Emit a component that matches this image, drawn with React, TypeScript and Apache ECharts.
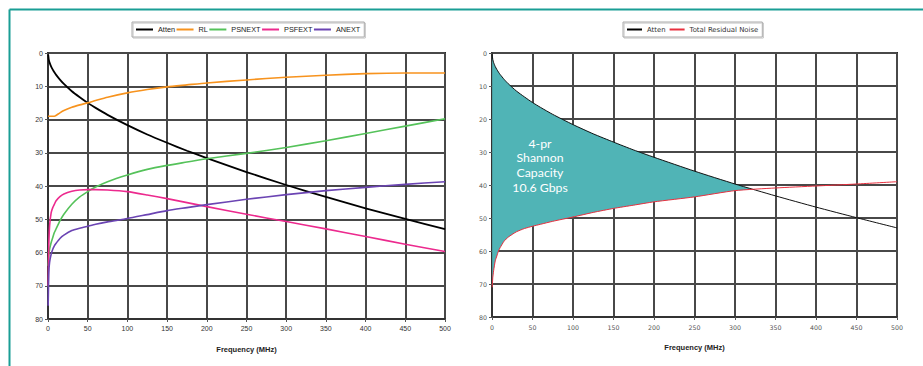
import React, { useEffect, useRef } from "react";
import * as echarts from "echarts";

// Frequency points (MHz)
const freqs = [0.2, 0.5, 1, 2, 4, 6, 8, 10, 15, 20, 30, 40, 50, 60, 75, 100, 125, 150, 175, 200, 250, 300, 350, 400, 450, 500];

// Left chart series (dB)
const atten = [0.5, 1.0, 2.0, 2.9, 4.1, 5.0, 5.8, 6.5, 8.0, 9.3, 11.5, 13.3, 15.0, 16.5, 18.6, 21.7, 24.5, 27.0, 29.4, 31.6, 35.8, 39.7, 43.3, 46.7, 49.9, 53.0];
const rl = [19, 19, 19, 19, 19, 19, 19, 18.8, 18.0, 17.3, 16.3, 15.6, 15.0, 14.3, 13.3, 12.0, 11.0, 10.2, 9.6, 9.0, 8.1, 7.3, 6.7, 6.2, 6.0, 6.0];
const psnext = [64, 63, 61, 59, 57, 55.5, 54, 53, 50.5, 48.5, 45.5, 43.3, 41.7, 40.3, 38.7, 36.7, 35.0, 33.8, 32.8, 31.8, 30.2, 28.4, 26.4, 24.2, 22.0, 19.8];
const psfext = [70, 66, 58, 52, 48, 46.5, 45.5, 44.5, 43.2, 42.4, 41.6, 41.2, 41.1, 41.1, 41.2, 41.7, 42.7, 43.8, 45.0, 46.2, 48.5, 50.7, 52.9, 55.2, 57.5, 59.7];
const anext = [76, 72, 66, 63, 60.5, 59, 58, 57.3, 55.8, 54.8, 53.4, 52.7, 52.1, 51.5, 50.8, 49.8, 48.6, 47.4, 46.5, 45.6, 44.0, 42.6, 41.4, 40.4, 39.5, 38.7];

// Right chart series (dB)
const attenR = atten;
const noise = [71, 70, 68, 66, 63, 61.5, 60, 59, 57, 55.8, 54.2, 53.2, 52.5, 51.9, 51.0, 49.7, 48.3, 47.1, 46.1, 45.1, 43.6, 41.7, 40.9, 40.3, 39.7, 39.0];

const leftNames = ["Atten", "RL", "PSNEXT", "PSFEXT", "ANEXT"];
const rightNames = ["Atten", "Total Residual Noise"];
const capacityLines = ["4-pr", "Shannon", "Capacity", "10.6 Gbps"];

const pairs = (ys: number[]) => freqs.map((f, i) => [f, ys[i]]);

export default function App() {
  const ref = useRef<HTMLDivElement>(null);
  useEffect(() => {
    if (!ref.current) return;
    const chart = echarts.init(ref.current, undefined, { renderer: "svg" });
    const lab = "Liberation Sans, Arial, sans-serif";
    const mkX = (gi: number, font: string, fs: number, color: string, margin: number) => ({
      gridIndex: gi,
      type: "value",
      min: 0,
      max: 500,
      interval: 50,
      name: "Frequency (MHz)",
      nameLocation: "middle",
      nameGap: 26,
      nameTextStyle: { fontWeight: "bold", fontSize: 7.5, fontFamily: lab, color: "#222" },
      axisLine: { show: true, onZero: false, lineStyle: { color: "#333", width: 2 } },
      axisTick: { show: true, length: 3, lineStyle: { color: "#555" } },
      axisLabel: { fontSize: fs, fontFamily: font, color, margin },
      splitLine: { show: true, lineStyle: { color: "#484848", width: 2 } },
    });
    const mkY = (gi: number, font: string, fs: number, color: string) => ({
      gridIndex: gi,
      type: "value",
      inverse: true,
      min: 0,
      max: 80,
      interval: 10,
      axisLine: { show: true, onZero: false, lineStyle: { color: "#333", width: 2 } },
      axisTick: { show: true, length: 3, lineStyle: { color: "#555" } },
      axisLabel: { fontSize: fs, fontFamily: font, color, margin: 5 },
      splitLine: { show: true, lineStyle: { color: "#484848", width: 2 } },
    });
    const line = (name: string, ys: number[], color: string, width: number, axis: number) => ({
      name,
      type: "line",
      xAxisIndex: axis,
      yAxisIndex: axis,
      data: pairs(ys),
      showSymbol: false,
      symbol: "none",
      smooth: 0.2,
      lineStyle: { color, width },
      itemStyle: { color },
      z: 3,
    });

    const textEls = capacityLines.map((t, i) => ({
      type: "text",
      x: 540,
      y: 143 + i * 14.9,
      z: 100,
      style: {
        text: t,
        fill: "#fff",
        font: '12.3px Lato, "Noto Sans", sans-serif',
        textAlign: "center",
        textVerticalAlign: "middle",
      },
    }));

    const option: any = {
      animation: false,
      backgroundColor: "#fff",
      grid: [
        { left: 48, top: 53, width: 397, height: 266, show: true, borderColor: "#2a2a2a", borderWidth: 2 },
        { left: 492, top: 53, width: 405, height: 264, show: true, borderColor: "#2a2a2a", borderWidth: 2 },
      ],
      legend: [
        {
          data: leftNames,
          left: 132,
          top: 22,
          icon: "rect",
          itemWidth: 17,
          itemHeight: 2,
          itemGap: 1.5,
          padding: [4, 4],
          borderColor: "#aaa",
          borderWidth: 1,
          shadowColor: "rgba(0,0,0,0.25)",
          shadowOffsetX: 1,
          shadowOffsetY: 1,
          shadowBlur: 1,
          textStyle: { fontSize: 7.3, fontFamily: lab, color: "#222" },
        },
        {
          data: rightNames,
          left: 623,
          top: 22,
          icon: "rect",
          itemWidth: 15,
          itemHeight: 2,
          itemGap: 4,
          padding: [4, 4],
          borderColor: "#aaa",
          borderWidth: 1,
          shadowColor: "rgba(0,0,0,0.25)",
          shadowOffsetX: 1,
          shadowOffsetY: 1,
          shadowBlur: 1,
          textStyle: { fontSize: 6.9, fontFamily: "DejaVu Sans, sans-serif", color: "#333" },
        },
      ],
      xAxis: [mkX(0, lab, 7, "#333", 6), mkX(1, "DejaVu Sans, sans-serif", 6.3, "#555", 7)],
      yAxis: [mkY(0, lab, 7, "#333"), mkY(1, "DejaVu Sans, sans-serif", 6.3, "#555")],
      graphic: [
        { type: "line", shape: { x1: 9.5, y1: 9.5, x2: 923, y2: 9.5 }, style: { stroke: "#1a9e95", lineWidth: 2 } },
        { type: "line", shape: { x1: 9.5, y1: 9.5, x2: 9.5, y2: 366 }, style: { stroke: "#1a9e95", lineWidth: 2 } },
        ...textEls,
      ],
      series: [
        line("Atten", atten, "#000000", 1.8, 0),
        line("RL", rl, "#f7931e", 1.6, 0),
        line("PSNEXT", psnext, "#55c25a", 1.6, 0),
        line("PSFEXT", psfext, "#ec2a8e", 1.6, 0),
        line("ANEXT", anext, "#6b44b3", 1.6, 0),
        {
          name: "capacity",
          type: "custom",
          xAxisIndex: 1,
          yAxisIndex: 1,
          data: [[0, 0]],
          silent: true,
          z: 1,
          renderItem: (params: any, api: any) => {
            const top: number[][] = [];
            const bottom: number[][] = [];
            for (let i = 0; i < freqs.length; i++) {
              const d = noise[i] - attenR[i];
              if (d >= 0) {
                top.push(api.coord([freqs[i], attenR[i]]));
                bottom.push(api.coord([freqs[i], noise[i]]));
              } else {
                const dPrev = noise[i - 1] - attenR[i - 1];
                const t = dPrev / (dPrev - d);
                const fx = freqs[i - 1] + t * (freqs[i] - freqs[i - 1]);
                const fy = attenR[i - 1] + t * (attenR[i] - attenR[i - 1]);
                top.push(api.coord([fx, fy]));
                break;
              }
            }
            const pts = top.concat(bottom.reverse());
            return { type: "polygon", shape: { points: pts }, style: { fill: "#50b4b6" } };
          },
        },
        line("Atten", attenR, "#111111", 1, 1),
        line("Total Residual Noise", noise, "#e8303f", 1, 1),
      ],
    };
    chart.setOption(option);
    return () => chart.dispose();
  }, []);
  return <div ref={ref} style={{ position: "absolute", left: 0, top: 0, width: 923, height: 366 }} />;
}
